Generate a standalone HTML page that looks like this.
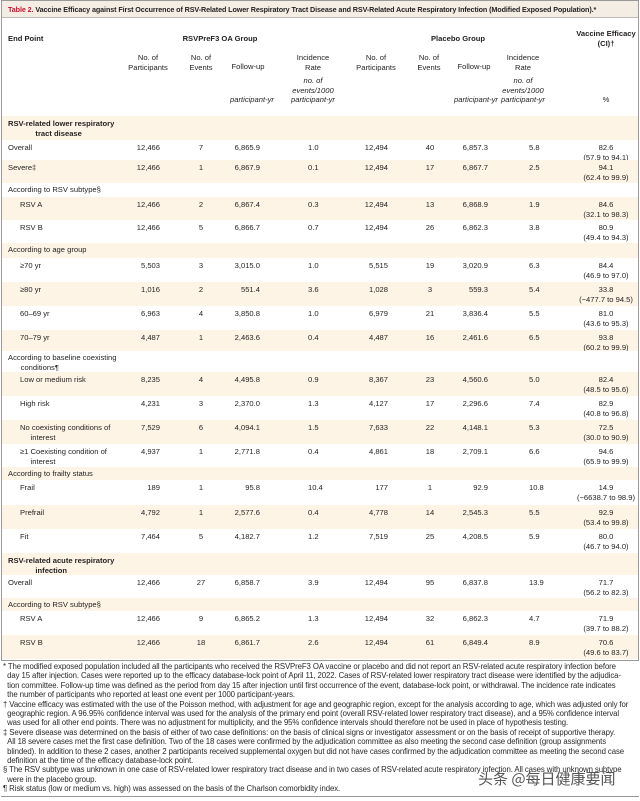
<!DOCTYPE html>
<html><head><meta charset="utf-8">
<style>
*{margin:0;padding:0;box-sizing:border-box}
body{width:640px;height:801px;background:#fff;position:relative;overflow:hidden;font-family:"Liberation Sans","Noto Sans CJK SC",sans-serif;color:#231f20;font-size:7.6px}
.a{position:absolute;white-space:nowrap;line-height:9.5px}
.row{position:absolute;left:2px;width:636px}
.b{font-weight:bold}
.i{font-style:italic}
.fn{position:absolute;left:3px;font-size:7.8px;line-height:10px;white-space:nowrap;color:#2a2a2a;letter-spacing:-0.1px}
</style></head><body>
<div style="position:absolute;left:1px;top:0;width:638px;height:661px;border-left:1px solid #999;border-right:1px solid #999;border-top:1px solid #999"></div>
<div style="position:absolute;left:2px;top:1px;width:636px;height:17px;background:#f3ede4;border-bottom:1px solid #bbb"></div>
<div class="a b" style="left:8px;top:5px;font-size:7.2px;letter-spacing:-0.1px"><span style="color:#c8102e">Table 2.</span> Vaccine Efficacy against First Occurrence of RSV-Related Lower Respiratory Tract Disease and RSV-Related Acute Respiratory Infection (Modified Exposed Population).*</div>
<div id="tbl"></div>
<div style="position:absolute;left:1px;top:660px;width:638px;height:1px;background:#999"></div>
<div id="fns"></div>
<div style="position:absolute;left:1px;top:796px;width:638px;height:1px;background:#999"></div>
<div class="a" style="left:478px;top:771px;font-size:15px;line-height:16px;color:#555;font-family:'Noto Sans CJK SC',sans-serif">头条 @每日健康要闻</div>
<script>
const tbl=document.getElementById('tbl');
function T(txt,x,y,cls,align,name){
  const d=document.createElement('div');
  d.className='a '+(cls||'');
  d.innerHTML=txt;
  
  
  if(align==='r'){d.style.right=(640-x)+'px';d.style.textAlign='right';}
  else if(align==='c'){d.style.left=(x-60)+'px';d.style.width='120px';d.style.textAlign='center';}
  else d.style.left=x+'px';
  d.style.top=y+'px';
  tbl.appendChild(d);
}
T('End Point',8,34,'b','l','header-end-point');
T('RSVPreF3 OA Group',220,34,'b','c','header-vaccine-group');
T('Placebo Group',458,34,'b','c','header-placebo-group');
T('Vaccine Efficacy<br>(CI)†',606,29,'b','c','header-vaccine-efficacy');
T('No. of<br>Participants',148,53,'','c','header-participants');
T('No. of<br>Events',201,53,'','c','header-events');
T('Follow-up',248,62,'','c','header-follow-up');
T('Incidence<br>Rate',313,53,'','c','header-incidence');
T('No. of<br>Participants',376,53,'','c','header-placebo-participants');
T('No. of<br>Events',429,53,'','c','header-placebo-events');
T('Follow-up',474,62,'','c','header-placebo-follow-up');
T('Incidence<br>Rate',523,53,'','c','header-placebo-incidence');
T('no. of<br>events/1000<br>participant-yr',313,76,'i','c','unit-incidence');
T('participant-yr',252,95,'i','c','unit-follow-up');
T('no. of<br>events/1000<br>participant-yr',523,76,'i','c','unit-placebo-incidence');
T('participant-yr',476,95,'i','c','unit-placebo-follow-up');
T('%',606,95,'','c','unit-percent');

const rows=[
['s','RSV-related lower respiratory<br>&nbsp;&nbsp;&nbsp;&nbsp;&nbsp;&nbsp;&nbsp;&nbsp;&nbsp;&nbsp;&nbsp;&nbsp;&nbsp;tract disease',116,140],
['d','Overall',140,160,'12,466','7','6,865.9','1.0','12,494','40','6,857.3','5.8','82.6','(57.9 to 94.1)'],
['d','Severe‡',160,183,'12,466','1','6,867.9','0.1','12,494','17','6,867.7','2.5','94.1','(62.4 to 99.9)'],
['g','According to RSV subtype§',183,197],
['d2','RSV A',197,220,'12,466','2','6,867.4','0.3','12,494','13','6,868.9','1.9','84.6','(32.1 to 98.3)'],
['d2','RSV B',220,243,'12,466','5','6,866.7','0.7','12,494','26','6,862.3','3.8','80.9','(49.4 to 94.3)'],
['g','According to age group',243,258],
['d2','≥70 yr',258,282,'5,503','3','3,015.0','1.0','5,515','19','3,020.9','6.3','84.4','(46.9 to 97.0)'],
['d2','≥80 yr',282,306,'1,016','2','551.4','3.6','1,028','3','559.3','5.4','33.8','(−477.7 to 94.5)'],
['d2','60–69 yr',306,330,'6,963','4','3,850.8','1.0','6,979','21','3,836.4','5.5','81.0','(43.6 to 95.3)'],
['d2','70–79 yr',330,351,'4,487','1','2,463.6','0.4','4,487','16','2,461.6','6.5','93.8','(60.2 to 99.9)'],
['g','According to baseline coexisting<br>&nbsp;&nbsp;&nbsp;&nbsp;&nbsp;&nbsp;conditions¶',351,372],
['d2','Low or medium risk',372,396,'8,235','4','4,495.8','0.9','8,367','23','4,560.6','5.0','82.4','(48.5 to 95.6)'],
['d2','High risk',396,420,'4,231','3','2,370.0','1.3','4,127','17','2,296.6','7.4','82.9','(40.8 to 96.8)'],
['d2','No coexisting conditions of<br>&nbsp;&nbsp;&nbsp;&nbsp;&nbsp;interest',420,444,'7,529','6','4,094.1','1.5','7,633','22','4,148.1','5.3','72.5','(30.0 to 90.9)'],
['d2','≥1 Coexisting condition of<br>&nbsp;&nbsp;&nbsp;&nbsp;&nbsp;interest',444,467,'4,937','1','2,771.8','0.4','4,861','18','2,709.1','6.6','94.6','(65.9 to 99.9)'],
['g','According to frailty status',467,480],
['d2','Frail',480,505,'189','1','95.8','10.4','177','1','92.9','10.8','14.9','(−6638.7 to 98.9)'],
['d2','Prefrail',505,529,'4,792','1','2,577.6','0.4','4,778','14','2,545.3','5.5','92.9','(53.4 to 99.8)'],
['d2','Fit',529,553,'7,464','5','4,182.7','1.2','7,519','25','4,208.5','5.9','80.0','(46.7 to 94.0)'],
['s','RSV-related acute respiratory<br>&nbsp;&nbsp;&nbsp;&nbsp;&nbsp;&nbsp;&nbsp;&nbsp;&nbsp;&nbsp;&nbsp;&nbsp;&nbsp;infection',553,575],
['d','Overall',575,598,'12,466','27','6,858.7','3.9','12,494','95','6,837.8','13.9','71.7','(56.2 to 82.3)'],
['g','According to RSV subtype§',598,611],
['d2','RSV A',611,635,'12,466','9','6,865.2','1.3','12,494','32','6,862.3','4.7','71.9','(39.7 to 88.2)'],
['d2','RSV B',635,659,'12,466','18','6,861.7','2.6','12,494','61','6,849.4','8.9','70.6','(49.6 to 83.7)']
];
rows.forEach((r,k)=>{
  const bg=document.createElement('div');
  bg.className='row';
  
  
  bg.style.top=r[2]+'px';bg.style.height=(r[3]-r[2])+'px';
  bg.style.background=(k%2===0)?'#fdf4e5':'#fff';
  tbl.appendChild(bg);
  const y=r[2]+(r[0]==='g'?2:3);
  if(r[0]==='s'){T(r[1],8,y,'b','l','section-label');return;}
  if(r[0]==='g'){T(r[1],8,y,'','l','group-label');return;}
  T(r[1],r[0]==='d2'?20:8,y,'','l','row-label');
  T(r[4],160,y,'','r','participants');
  T(r[5],201,y,'','c','events');
  T(r[6],260,y,'','r','follow-up');
  T(r[7],308,y,'','l','incidence');
  T(r[8],388,y,'','r','placebo-participants');
  T(r[9],430,y,'','c','placebo-events');
  T(r[10],488,y,'','r','placebo-follow-up');
  T(r[11],529,y,'','l','placebo-incidence');
  T(r[12]+'<br>'+r[13],606,y,'','c','vaccine-efficacy');
});
const fl=[
'* The modified exposed population included all the participants who received the RSVPreF3 OA vaccine or placebo and did not report an RSV-related acute respiratory infection before',
'&nbsp;&nbsp;day 15 after injection. Cases were reported up to the efficacy database-lock point of April 11, 2022. Cases of RSV-related lower respiratory tract disease were identified by the adjudica-',
'&nbsp;&nbsp;tion committee. Follow-up time was defined as the period from day 15 after injection until first occurrence of the event, database-lock point, or withdrawal. The incidence rate indicates',
'&nbsp;&nbsp;the number of participants who reported at least one event per 1000 participant-years.',
'† Vaccine efficacy was estimated with the use of the Poisson method, with adjustment for age and geographic region, except for the analysis according to age, which was adjusted only for',
'&nbsp;&nbsp;geographic region. A 96.95% confidence interval was used for the analysis of the primary end point (overall RSV-related lower respiratory tract disease), and a 95% confidence interval',
'&nbsp;&nbsp;was used for all other end points. There was no adjustment for multiplicity, and the 95% confidence intervals should therefore not be used in place of hypothesis testing.',
'‡ Severe disease was determined on the basis of either of two case definitions: on the basis of clinical signs or investigator assessment or on the basis of receipt of supportive therapy.',
'&nbsp;&nbsp;All 18 severe cases met the first case definition. Two of the 18 cases were confirmed by the adjudication committee as also meeting the second case definition (group assignments',
'&nbsp;&nbsp;blinded). In addition to these 2 cases, another 2 participants received supplemental oxygen but did not have cases confirmed by the adjudication committee as meeting the second case',
'&nbsp;&nbsp;definition at the time of the efficacy database-lock point.',
'§ The RSV subtype was unknown in one case of RSV-related lower respiratory tract disease and in two cases of RSV-related acute respiratory infection. All cases with unknown subtype',
'&nbsp;&nbsp;were in the placebo group.',
'¶ Risk status (low or medium vs. high) was assessed on the basis of the Charlson comorbidity index.'
];
const fns=document.getElementById('fns');
fl.forEach((t,i)=>{
  const d=document.createElement('div');
  d.className='fn';
  d.innerHTML=t;
  
  
  d.style.top=(662+i*9.4)+'px';
  fns.appendChild(d);
});
</script>
</body></html>
